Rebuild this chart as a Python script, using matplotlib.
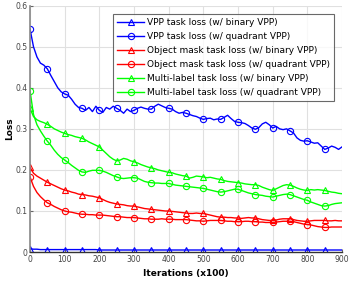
import matplotlib
matplotlib.use("Agg")
import matplotlib.pyplot as plt
import numpy as np

# iterations (x100), every 10
iters = np.arange(0, 901, 10)

vpp_bin = [0.008, 0.007, 0.007, 0.006, 0.006, 0.006, 0.006, 0.006, 0.006, 0.006,
           0.006, 0.006, 0.006, 0.006, 0.006, 0.006, 0.006, 0.006, 0.006, 0.006,
           0.005, 0.005, 0.005, 0.005, 0.005, 0.005, 0.005, 0.005, 0.005, 0.005,
           0.005, 0.005, 0.005, 0.005, 0.005, 0.005, 0.005, 0.005, 0.005, 0.005,
           0.005, 0.005, 0.005, 0.005, 0.005, 0.005, 0.005, 0.005, 0.005, 0.005,
           0.005, 0.005, 0.005, 0.005, 0.005, 0.005, 0.005, 0.005, 0.005, 0.005,
           0.005, 0.005, 0.005, 0.005, 0.005, 0.005, 0.005, 0.005, 0.005, 0.005,
           0.005, 0.005, 0.005, 0.005, 0.005, 0.005, 0.005, 0.005, 0.005, 0.005,
           0.005, 0.005, 0.005, 0.005, 0.005, 0.005, 0.005, 0.005, 0.005, 0.005,
           0.005]

vpp_quad = [0.543, 0.500, 0.475, 0.460, 0.455, 0.446, 0.430, 0.415, 0.400, 0.390,
            0.385, 0.382, 0.372, 0.360, 0.352, 0.350, 0.345, 0.352, 0.342, 0.355,
            0.345, 0.340, 0.352, 0.348, 0.355, 0.350, 0.345, 0.338, 0.348, 0.342,
            0.345, 0.350, 0.353, 0.350, 0.348, 0.348, 0.355, 0.360, 0.356, 0.352,
            0.350, 0.348, 0.342, 0.338, 0.340, 0.338, 0.335, 0.332, 0.330, 0.326,
            0.323, 0.325, 0.326, 0.322, 0.324, 0.323, 0.328, 0.333, 0.325, 0.318,
            0.316, 0.315, 0.313, 0.308, 0.302, 0.299, 0.303, 0.312, 0.316, 0.310,
            0.302, 0.306, 0.300, 0.298, 0.300, 0.295, 0.290, 0.278, 0.272, 0.270,
            0.271, 0.268, 0.265, 0.266, 0.258, 0.250, 0.253, 0.258, 0.255, 0.250,
            0.256]

obj_bin = [0.206, 0.192, 0.185, 0.180, 0.175, 0.170, 0.166, 0.162, 0.158, 0.154,
           0.151, 0.149, 0.146, 0.144, 0.141, 0.140, 0.139, 0.137, 0.136, 0.134,
           0.132, 0.128, 0.124, 0.121, 0.119, 0.117, 0.116, 0.115, 0.113, 0.112,
           0.112, 0.110, 0.108, 0.106, 0.105, 0.104, 0.103, 0.102, 0.101, 0.100,
           0.100, 0.099, 0.098, 0.097, 0.096, 0.095, 0.094, 0.094, 0.095, 0.094,
           0.094, 0.092, 0.090, 0.088, 0.086, 0.085, 0.085, 0.084, 0.084, 0.083,
           0.083, 0.082, 0.083, 0.084, 0.083, 0.083, 0.081, 0.079, 0.078, 0.077,
           0.077, 0.078, 0.080, 0.081, 0.081, 0.081, 0.079, 0.077, 0.076, 0.075,
           0.075, 0.076, 0.077, 0.077, 0.077, 0.077, 0.076, 0.076, 0.077, 0.076,
           0.076]

obj_quad = [0.183, 0.160, 0.145, 0.135, 0.127, 0.120, 0.116, 0.111, 0.107, 0.103,
            0.100, 0.098, 0.097, 0.095, 0.093, 0.092, 0.092, 0.091, 0.091, 0.090,
            0.090, 0.090, 0.089, 0.088, 0.087, 0.086, 0.086, 0.085, 0.084, 0.084,
            0.084, 0.083, 0.082, 0.081, 0.081, 0.080, 0.080, 0.080, 0.081, 0.080,
            0.080, 0.080, 0.079, 0.079, 0.079, 0.079, 0.078, 0.077, 0.076, 0.076,
            0.075, 0.076, 0.077, 0.077, 0.077, 0.077, 0.076, 0.075, 0.075, 0.074,
            0.074, 0.074, 0.075, 0.075, 0.074, 0.074, 0.073, 0.073, 0.072, 0.072,
            0.072, 0.073, 0.074, 0.075, 0.075, 0.075, 0.074, 0.072, 0.070, 0.068,
            0.067, 0.066, 0.064, 0.062, 0.061, 0.060, 0.060, 0.061, 0.061, 0.061,
            0.061]

ml_bin = [0.350, 0.330, 0.322, 0.318, 0.315, 0.311, 0.306, 0.300, 0.296, 0.292,
          0.289, 0.286, 0.284, 0.281, 0.279, 0.277, 0.273, 0.268, 0.264, 0.260,
          0.256, 0.248, 0.240, 0.232, 0.226, 0.222, 0.224, 0.228, 0.226, 0.222,
          0.220, 0.217, 0.213, 0.210, 0.207, 0.205, 0.203, 0.200, 0.198, 0.196,
          0.194, 0.193, 0.190, 0.188, 0.186, 0.185, 0.180, 0.182, 0.185, 0.184,
          0.183, 0.181, 0.182, 0.180, 0.178, 0.177, 0.174, 0.172, 0.171, 0.170,
          0.169, 0.168, 0.166, 0.165, 0.164, 0.164, 0.162, 0.158, 0.155, 0.152,
          0.150, 0.154, 0.158, 0.162, 0.164, 0.163, 0.160, 0.156, 0.153, 0.151,
          0.150, 0.152, 0.151, 0.152, 0.151, 0.150, 0.148, 0.146, 0.145, 0.143,
          0.142]

ml_quad = [0.393, 0.335, 0.310, 0.295, 0.282, 0.270, 0.260, 0.248, 0.238, 0.230,
           0.224, 0.218, 0.211, 0.205, 0.199, 0.195, 0.194, 0.197, 0.199, 0.199,
           0.199, 0.197, 0.194, 0.190, 0.186, 0.183, 0.180, 0.179, 0.180, 0.181,
           0.181, 0.180, 0.176, 0.172, 0.170, 0.169, 0.168, 0.168, 0.167, 0.167,
           0.167, 0.165, 0.163, 0.162, 0.161, 0.160, 0.159, 0.158, 0.157, 0.156,
           0.155, 0.153, 0.151, 0.149, 0.147, 0.146, 0.147, 0.149, 0.151, 0.153,
           0.153, 0.150, 0.147, 0.144, 0.142, 0.140, 0.139, 0.138, 0.136, 0.135,
           0.134, 0.136, 0.138, 0.140, 0.141, 0.140, 0.137, 0.134, 0.131, 0.128,
           0.126, 0.122, 0.119, 0.116, 0.113, 0.112, 0.113, 0.116, 0.118, 0.119,
           0.120]

labels = ["VPP task loss (w/ binary VPP)",
          "VPP task loss (w/ quadrant VPP)",
          "Object mask task loss (w/ binary VPP)",
          "Object mask task loss (w/ quadrant VPP)",
          "Multi-label task loss (w/ binary VPP)",
          "Multi-label task loss (w/ quadrant VPP)"]
series = [vpp_bin, vpp_quad, obj_bin, obj_quad, ml_bin, ml_quad]
colors = ["#0000ff", "#0000ff", "#ff0000", "#ff0000", "#00ff00", "#00ff00"]
markers = ["^", "o", "^", "o", "^", "o"]

fig = plt.figure(figsize=(3.49, 2.81), dpi=100)
ax = fig.add_axes([0.086, 0.103, 0.894, 0.877])

for y, c, m, lab in zip(series, colors, markers, labels):
    ax.plot(iters, y, color=c, lw=1.0, marker=m, markevery=slice(0, 90, 5),
            ms=4.5, mfc="none", mew=0.8, label=lab)

ax.set_xlim(0, 900)
ax.set_ylim(0, 0.6)
ax.set_xticks(np.arange(0, 901, 100))
ax.set_yticks([0, 0.1, 0.2, 0.3, 0.4, 0.5, 0.6])
ax.set_yticklabels(["0", "0.1", "0.2", "0.3", "0.4", "0.5", "0.6"])
ax.grid(True, color="#e0e0e0", lw=0.8)
ax.set_axisbelow(True)
ax.tick_params(direction="in", labelsize=5.5, labelcolor="#444444", length=2,
               color="#666666", pad=2)
for s in ["top", "right"]:
    ax.spines[s].set_visible(False)
ax.spines["left"].set_color("#888888")
ax.spines["left"].set_linewidth(1.2)
ax.spines["bottom"].set_color("#333333")
ax.spines["bottom"].set_linewidth(1.0)

ax.set_xlabel("Iterations (x100)", fontsize=6.5, fontweight="bold", labelpad=4)
ax.set_ylabel("Loss", fontsize=6.5, fontweight="bold", labelpad=1)

leg = ax.legend(loc="upper right", bbox_to_anchor=(0.974, 0.966), fontsize=6.5,
                frameon=True, fancybox=False, edgecolor="#444444",
                handlelength=3.0, handletextpad=0.3, labelspacing=0.55,
                borderpad=0.45, borderaxespad=0)
leg.get_frame().set_linewidth(0.8)

fig.savefig("out.png", dpi=100)
